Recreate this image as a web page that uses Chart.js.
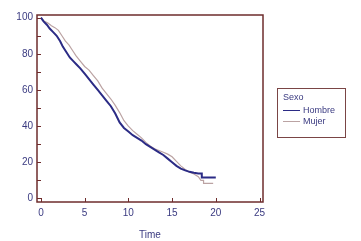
<!DOCTYPE html>
<html>
<head>
<meta charset="utf-8">
<script src="https://cdn.jsdelivr.net/npm/chart.js@4/dist/chart.umd.min.js"></script>
<style>
  body { margin: 0; background: #fff; }
  #wrap { position: relative; width: 361px; height: 241px; }
  #legend {
    position: absolute; left: 277px; top: 88px; width: 67px; height: 48px;
    border: 1px solid #7a4545; font-family: "Liberation Sans", Arial, sans-serif;
    font-size: 9px; color: #3a3a80; box-sizing: content-box;
  }
  #legend .title { position: absolute; left: 5px; top: 3px; }
  #legend .row { position: absolute; left: 5px; height: 10px; }
  #legend .row span.line { position: absolute; left: 0; top: 5px; width: 17px; }
  #legend .row span.lab { position: absolute; left: 20px; top: 0; white-space: nowrap; }
</style>
</head>
<body>
<div id="wrap">
  <canvas id="kmChart" width="361" height="241"></canvas>
  <div id="legend"></div>
</div>
<script>
// Kaplan-Meier survival curves
const hombreTime = [0, 0.3, 0.7, 1.0, 1.4, 1.8, 2.2, 2.5, 2.9, 3.3, 3.7, 4.1, 4.5, 5.0, 5.5, 6.0, 6.5, 7.0, 7.5, 8.0, 8.5, 9.0, 9.5, 10.0, 10.5, 11.0, 11.5, 12.0, 12.5, 13.0, 13.5, 14.0, 14.5, 15.0, 15.5, 16.0, 16.5, 17.0, 17.5, 18.0, 18.4, 18.4, 20.0];
const hombreSurv = [100, 98, 96, 94, 92, 90, 87, 84, 81, 78, 76, 74, 72, 69, 66, 63, 60, 57, 54, 51, 47, 42, 39, 37, 35, 33.5, 32, 30, 28.5, 27, 25.5, 24, 22, 20, 18, 16.5, 15.5, 14.7, 14.2, 13.8, 13.8, 11.6, 11.6];

const mujerTime = [0, 0.4, 0.8, 1.2, 1.6, 2.0, 2.4, 2.8, 3.2, 3.6, 4.0, 4.5, 5.0, 5.5, 6.0, 6.5, 7.0, 7.5, 8.0, 8.5, 9.0, 9.5, 10.0, 10.5, 11.0, 11.5, 12.0, 12.5, 13.0, 13.5, 14.0, 14.5, 15.0, 15.5, 16.0, 16.5, 17.0, 17.5, 18.0, 18.3, 18.6, 18.6, 19.7];
const mujerSurv = [100, 98, 97, 95.5, 94.5, 93, 90, 87, 85, 82, 79, 76, 73, 71, 68, 65, 61, 58, 55, 51.5, 47.5, 43, 40, 37.5, 35.5, 33.5, 31, 29, 27.5, 26.5, 25.5, 24.5, 23, 20.5, 18, 16, 14.5, 13.5, 12, 10, 10, 8.3, 8.3];

const xTicks = [0, 5, 10, 15, 20, 25];
const yTicks = [0, 20, 40, 60, 80, 100];
const legendTitle = "Sexo";
const seriesNames = ["Hombre", "Mujer"];
const seriesColors = ["#2b2b85", "#bba3a3"];

const frameColor = "#6e2c2c";
const textColor = "#3a3a80";

function toPoints(t, s) {
    return t.map((v, i) => ({ x: v, y: s[i] }));
}

// frame box plus short inward tick marks
const framePlugin = {
    id: "frame",
    afterDraw(chart) {
        const c = chart.ctx, a = chart.chartArea;
        const xs = chart.scales.x, ys = chart.scales.y;
        c.save();
        c.strokeStyle = frameColor;
        c.lineWidth = 1.5;
        c.strokeRect(a.left, a.top, a.right - a.left, a.bottom - a.top);
        c.lineWidth = 1;
        c.beginPath();
        xTicks.forEach(v => {
            const px = Math.round(xs.getPixelForValue(v)) + 0.5;
            c.moveTo(px, a.bottom);
            c.lineTo(px, a.bottom - 4);
        });
        for (let v = 0; v <= 100; v += 10) {
            const py = Math.round(ys.getPixelForValue(v)) + 0.5;
            c.moveTo(a.left, py);
            c.lineTo(a.left + 4, py);
        }
        c.stroke();
        c.restore();
    }
};

const ctx = document.getElementById("kmChart");

new Chart(ctx, {
    type: "line",
    data: {
        datasets: [
            {
                label: seriesNames[0],
                data: toPoints(hombreTime, hombreSurv),
                borderColor: seriesColors[0],
                borderWidth: 2,
                pointRadius: 0,
                tension: 0
            },
            {
                label: seriesNames[1],
                data: toPoints(mujerTime, mujerSurv),
                borderColor: seriesColors[1],
                borderWidth: 1.2,
                pointRadius: 0,
                tension: 0
            }
        ]
    },
    options: {
        responsive: false,
        animation: false,
        layout: { padding: { left: 0, top: 15, right: 98, bottom: 0 } },
        plugins: {
            legend: { display: false },
            tooltip: { enabled: false }
        },
        scales: {
            x: {
                type: "linear",
                min: -0.45,
                max: 25.4,
                afterBuildTicks: s => { s.ticks = xTicks.map(v => ({ value: v })); },
                afterFit: s => { s.height = 39; },
                grid: { display: false, drawTicks: false },
                border: { display: false },
                ticks: {
                    color: textColor,
                    padding: 5,
                    maxRotation: 0,
                    font: { family: "Liberation Sans", size: 10 }
                },
                title: {
                    display: true,
                    text: "Time",
                    color: textColor,
                    padding: { top: 2, bottom: 0 },
                    font: { family: "Liberation Sans", size: 10 }
                }
            },
            y: {
                min: -2,
                max: 101.5,
                afterBuildTicks: s => { s.ticks = yTicks.map(v => ({ value: v })); },
                afterFit: s => { s.width = 37; },
                grid: { display: false, drawTicks: false },
                border: { display: false },
                ticks: {
                    color: textColor,
                    padding: 4,
                    font: { family: "Liberation Sans", size: 10 }
                }
            }
        }
    },
    plugins: [framePlugin]
});

// legend box on the right
const leg = document.getElementById("legend");
leg.innerHTML = '<div class="title">' + legendTitle + '</div>' +
    seriesNames.map((n, i) =>
        '<div class="row" style="top:' + (16 + i * 11) + 'px">' +
        '<span class="line" style="border-top:' + (i === 0 ? 1.5 : 1) + 'px solid ' + seriesColors[i] + '"></span>' +
        '<span class="lab">' + n + '</span></div>').join("");
</script>
</body>
</html>
